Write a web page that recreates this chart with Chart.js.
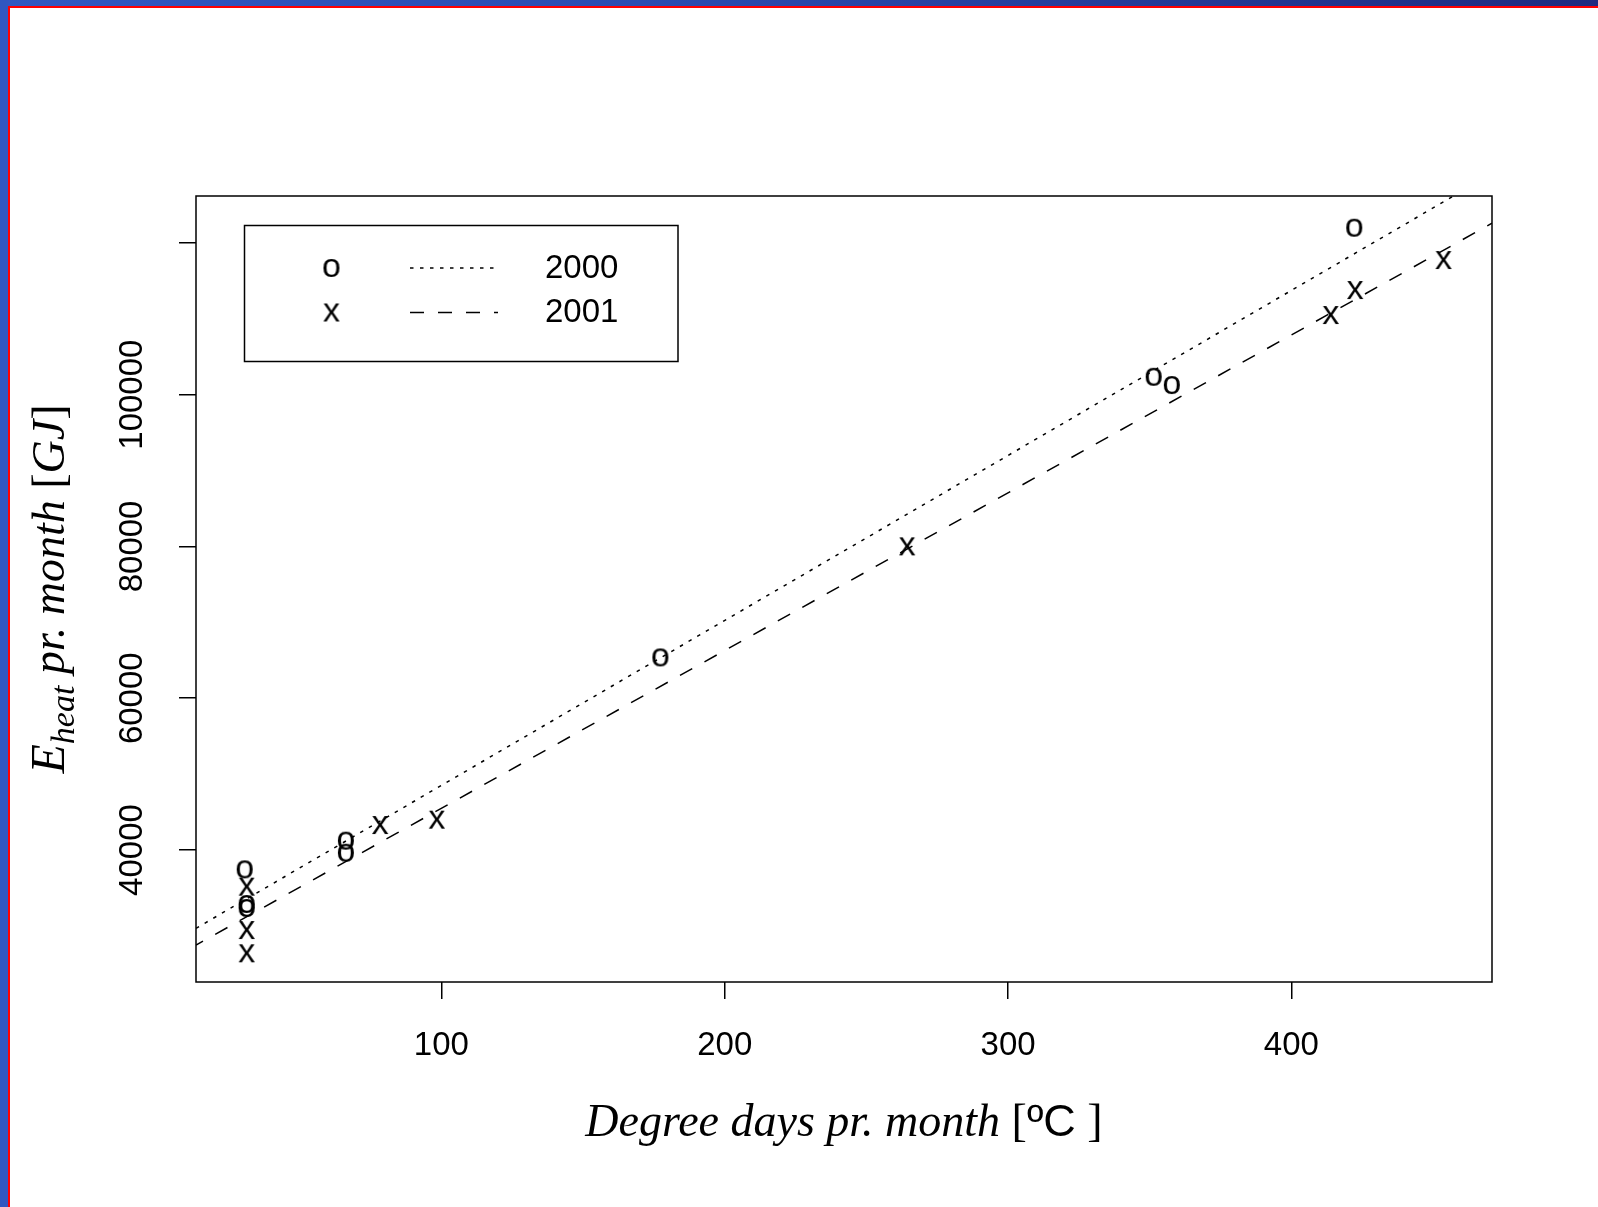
<!DOCTYPE html>
<html>
<head>
<meta charset="utf-8">
<script src="https://cdn.jsdelivr.net/npm/chart.js@4.4.1/dist/chart.umd.min.js"></script>
<style>
  html, body { margin: 0; padding: 0; background: #fff; }
  #wrap { position: relative; width: 1598px; height: 1207px; overflow: hidden; background: #fff; }
  #chart { position: absolute; left: 0; top: 0; }
  .frame { position: absolute; }
  #blueTop { left: 0; top: 0; width: 1598px; height: 6px; background: linear-gradient(to right, #3158c2, #2b4cb2 40%, #1f2a80); }
  #blueLeft { left: 0; top: 0; width: 8px; height: 1207px; background: #3057c0; }
  #redTop { left: 8px; top: 6px; width: 1590px; height: 2px; background: #ff0000; }
  #redLeft { left: 8px; top: 6px; width: 2px; height: 1201px; background: #ff0000; }
</style>
</head>
<body>
<div id="wrap">
  <canvas id="chart" width="1598" height="1207"></canvas>
  <div class="frame" id="blueTop"></div>
  <div class="frame" id="blueLeft"></div>
  <div class="frame" id="redTop"></div>
  <div class="frame" id="redLeft"></div>
</div>
<script>
// axis ranges and ticks
const xRange = [13.4, 470.8];
const yRange = [22610, 126170];
const xTicks = [100, 200, 300, 400];
const yTicks = [40000, 60000, 80000, 100000, 120000];
const yTickLabels = ["40000", "60000", "80000", "100000", ""];

const seriesNames = ["2000", "2001"];
const seriesSymbols = ["o", "x"];

// monthly degree days vs heat use
const degreeDays2000 = [30.6, 31.3, 31.3, 66.3, 66.3, 177.3, 351.4, 357.8, 422.2];
const heat2000 = [37450, 32890, 32360, 41230, 39640, 65380, 102350, 101260, 121990];
const degreeDays2001 = [31.3, 31.3, 31.3, 78.4, 98.4, 264.4, 413.9, 422.5, 453.7];
const heat2001 = [35170, 29460, 26390, 43290, 44000, 80010, 110490, 113780, 117730];

// fitted lines (intercept, slope) per year
const fitIntercept = [26770, 24700];
const fitSlope = [217.4, 207.9];

const sansFont = '"Liberation Sans", Arimo, Arial, sans-serif';
const serifFont = '"Liberation Serif", "Times New Roman", serif';
const tickFontSize = 33;
const markerFontSize = 34;
const dashStyles = [[3.5, 6.5], [14, 14]];

function glyphImage(ch) {
  const size = 50;
  const c = document.createElement("canvas");
  c.width = size;
  c.height = size;
  const g = c.getContext("2d");
  g.font = `${markerFontSize}px ${sansFont}`;
  g.fillStyle = "#000";
  g.textAlign = "center";
  g.textBaseline = "alphabetic";
  const m = g.measureText(ch);
  const inkH = m.actualBoundingBoxAscent + m.actualBoundingBoxDescent;
  g.fillText(ch, size / 2, size / 2 + inkH / 2 - m.actualBoundingBoxDescent);
  return c;
}

const markers = seriesSymbols.map(glyphImage);

function toPoints(xs, ys) {
  return xs.map((x, i) => ({ x, y: ys[i] }));
}

function fitLine(i) {
  return xRange.map((x) => ({ x, y: fitIntercept[i] + fitSlope[i] * x }));
}

const boxPlugin = {
  id: "box",
  afterDraw(chart) {
    const { ctx, chartArea: a } = chart;
    ctx.save();
    ctx.strokeStyle = "#000";
    ctx.lineWidth = 1.5;
    ctx.strokeRect(a.left, a.top, a.right - a.left, a.bottom - a.top);
    ctx.restore();
  },
};

const legendPlugin = {
  id: "rLegend",
  afterDraw(chart) {
    const { ctx, chartArea: a } = chart;
    const left = a.left + 48.5;
    const top = a.top + 29.5;
    ctx.save();
    ctx.strokeStyle = "#000";
    ctx.lineWidth = 1.5;
    ctx.strokeRect(left, top, 433.5, 136);
    const rows = [42.5, 87];
    seriesNames.forEach((name, i) => {
      const cy = top + rows[i];
      const img = markers[i];
      ctx.drawImage(img, left + 87 - img.width / 2, cy - img.height / 2);
      ctx.beginPath();
      ctx.setLineDash(dashStyles[i]);
      ctx.lineWidth = 1.5;
      ctx.moveTo(left + 165.5, cy);
      ctx.lineTo(left + 253.5, cy);
      ctx.stroke();
      ctx.setLineDash([]);
      ctx.fillStyle = "#000";
      ctx.font = `${tickFontSize}px ${sansFont}`;
      ctx.textBaseline = "alphabetic";
      ctx.textAlign = "left";
      ctx.fillText(name, left + 300.5, cy + tickFontSize * 0.3);
    });
    ctx.restore();
  },
};

function drawSegments(ctx, parts, x0, y0) {
  let total = 0;
  parts.forEach((p) => {
    ctx.font = p.font;
    total += ctx.measureText(p.text).width;
  });
  let x = x0 - total / 2;
  parts.forEach((p) => {
    ctx.font = p.font;
    ctx.fillText(p.text, x, y0 + (p.shift || 0));
    x += ctx.measureText(p.text).width;
  });
}

const titlePlugin = {
  id: "axisTitles",
  afterDraw(chart) {
    const { ctx, chartArea: a } = chart;
    const it = `italic 46px ${serifFont}`;
    const up = `46px ${serifFont}`;
    ctx.save();
    ctx.fillStyle = "#000";
    ctx.textAlign = "left";
    ctx.textBaseline = "alphabetic";
    drawSegments(ctx, [
      { text: "Degree days pr. month ", font: it },
      { text: "[", font: up },
      { text: "ºC", font: `45px ${sansFont}` },
      { text: " ]", font: up },
    ], (a.left + a.right) / 2, 1136);

    ctx.translate(64, (a.top + a.bottom) / 2);
    ctx.rotate(-Math.PI / 2);
    drawSegments(ctx, [
      { text: "E", font: `italic 48px ${serifFont}` },
      { text: "heat", font: `italic 34px ${serifFont}`, shift: 10 },
      { text: " pr. month ", font: it },
      { text: "[", font: up },
      { text: "GJ", font: it },
      { text: "]", font: up },
    ], 0, 0);
    ctx.restore();
  },
};

const tickFont = { family: sansFont, size: tickFontSize };

new Chart(document.getElementById("chart"), {
  type: "scatter",
  data: {
    datasets: [
      {
        label: seriesNames[0],
        data: toPoints(degreeDays2000, heat2000),
        pointStyle: markers[0],
        pointRadius: 10,
      },
      {
        label: seriesNames[1],
        data: toPoints(degreeDays2001, heat2001),
        pointStyle: markers[1],
        pointRadius: 10,
      },
      {
        label: seriesNames[0] + " fit",
        data: fitLine(0),
        showLine: true,
        pointRadius: 0,
        borderColor: "#000",
        borderWidth: 1.5,
        borderDash: dashStyles[0],
      },
      {
        label: seriesNames[1] + " fit",
        data: fitLine(1),
        showLine: true,
        pointRadius: 0,
        borderColor: "#000",
        borderWidth: 1.5,
        borderDash: dashStyles[1],
        borderDashOffset: 6,
      },
    ],
  },
  options: {
    responsive: false,
    animation: false,
    events: [],
    layout: { padding: { top: 196, right: 106, left: 0, bottom: 0 } },
    plugins: { legend: { display: false }, tooltip: { enabled: false } },
    scales: {
      x: {
        type: "linear",
        min: xRange[0],
        max: xRange[1],
        afterBuildTicks: (s) => { s.ticks = xTicks.map((v) => ({ value: v })); },
        afterFit: (s) => { s.height = 225; },
        border: { display: false },
        grid: { drawOnChartArea: false, tickLength: 17, color: "#000", lineWidth: 1.5 },
        ticks: { color: "#000", font: tickFont, padding: 27, maxRotation: 0, autoSkip: false, callback: (v) => String(v) },
      },
      y: {
        type: "linear",
        min: yRange[0],
        max: yRange[1],
        afterBuildTicks: (s) => { s.ticks = yTicks.map((v) => ({ value: v })); },
        afterFit: (s) => { s.width = 196; },
        border: { display: false },
        grid: { drawOnChartArea: false, tickLength: 17, color: "#000", lineWidth: 1.5 },
        ticks: {
          color: "#000",
          font: tickFont,
          minRotation: 90,
          maxRotation: 90,
          crossAlign: "center",
          padding: -9,
          autoSkip: false,
          callback: (v) => yTickLabels[yTicks.indexOf(v)],
        },
      },
    },
  },
  plugins: [boxPlugin, legendPlugin, titlePlugin],
});
</script>
</body>
</html>
